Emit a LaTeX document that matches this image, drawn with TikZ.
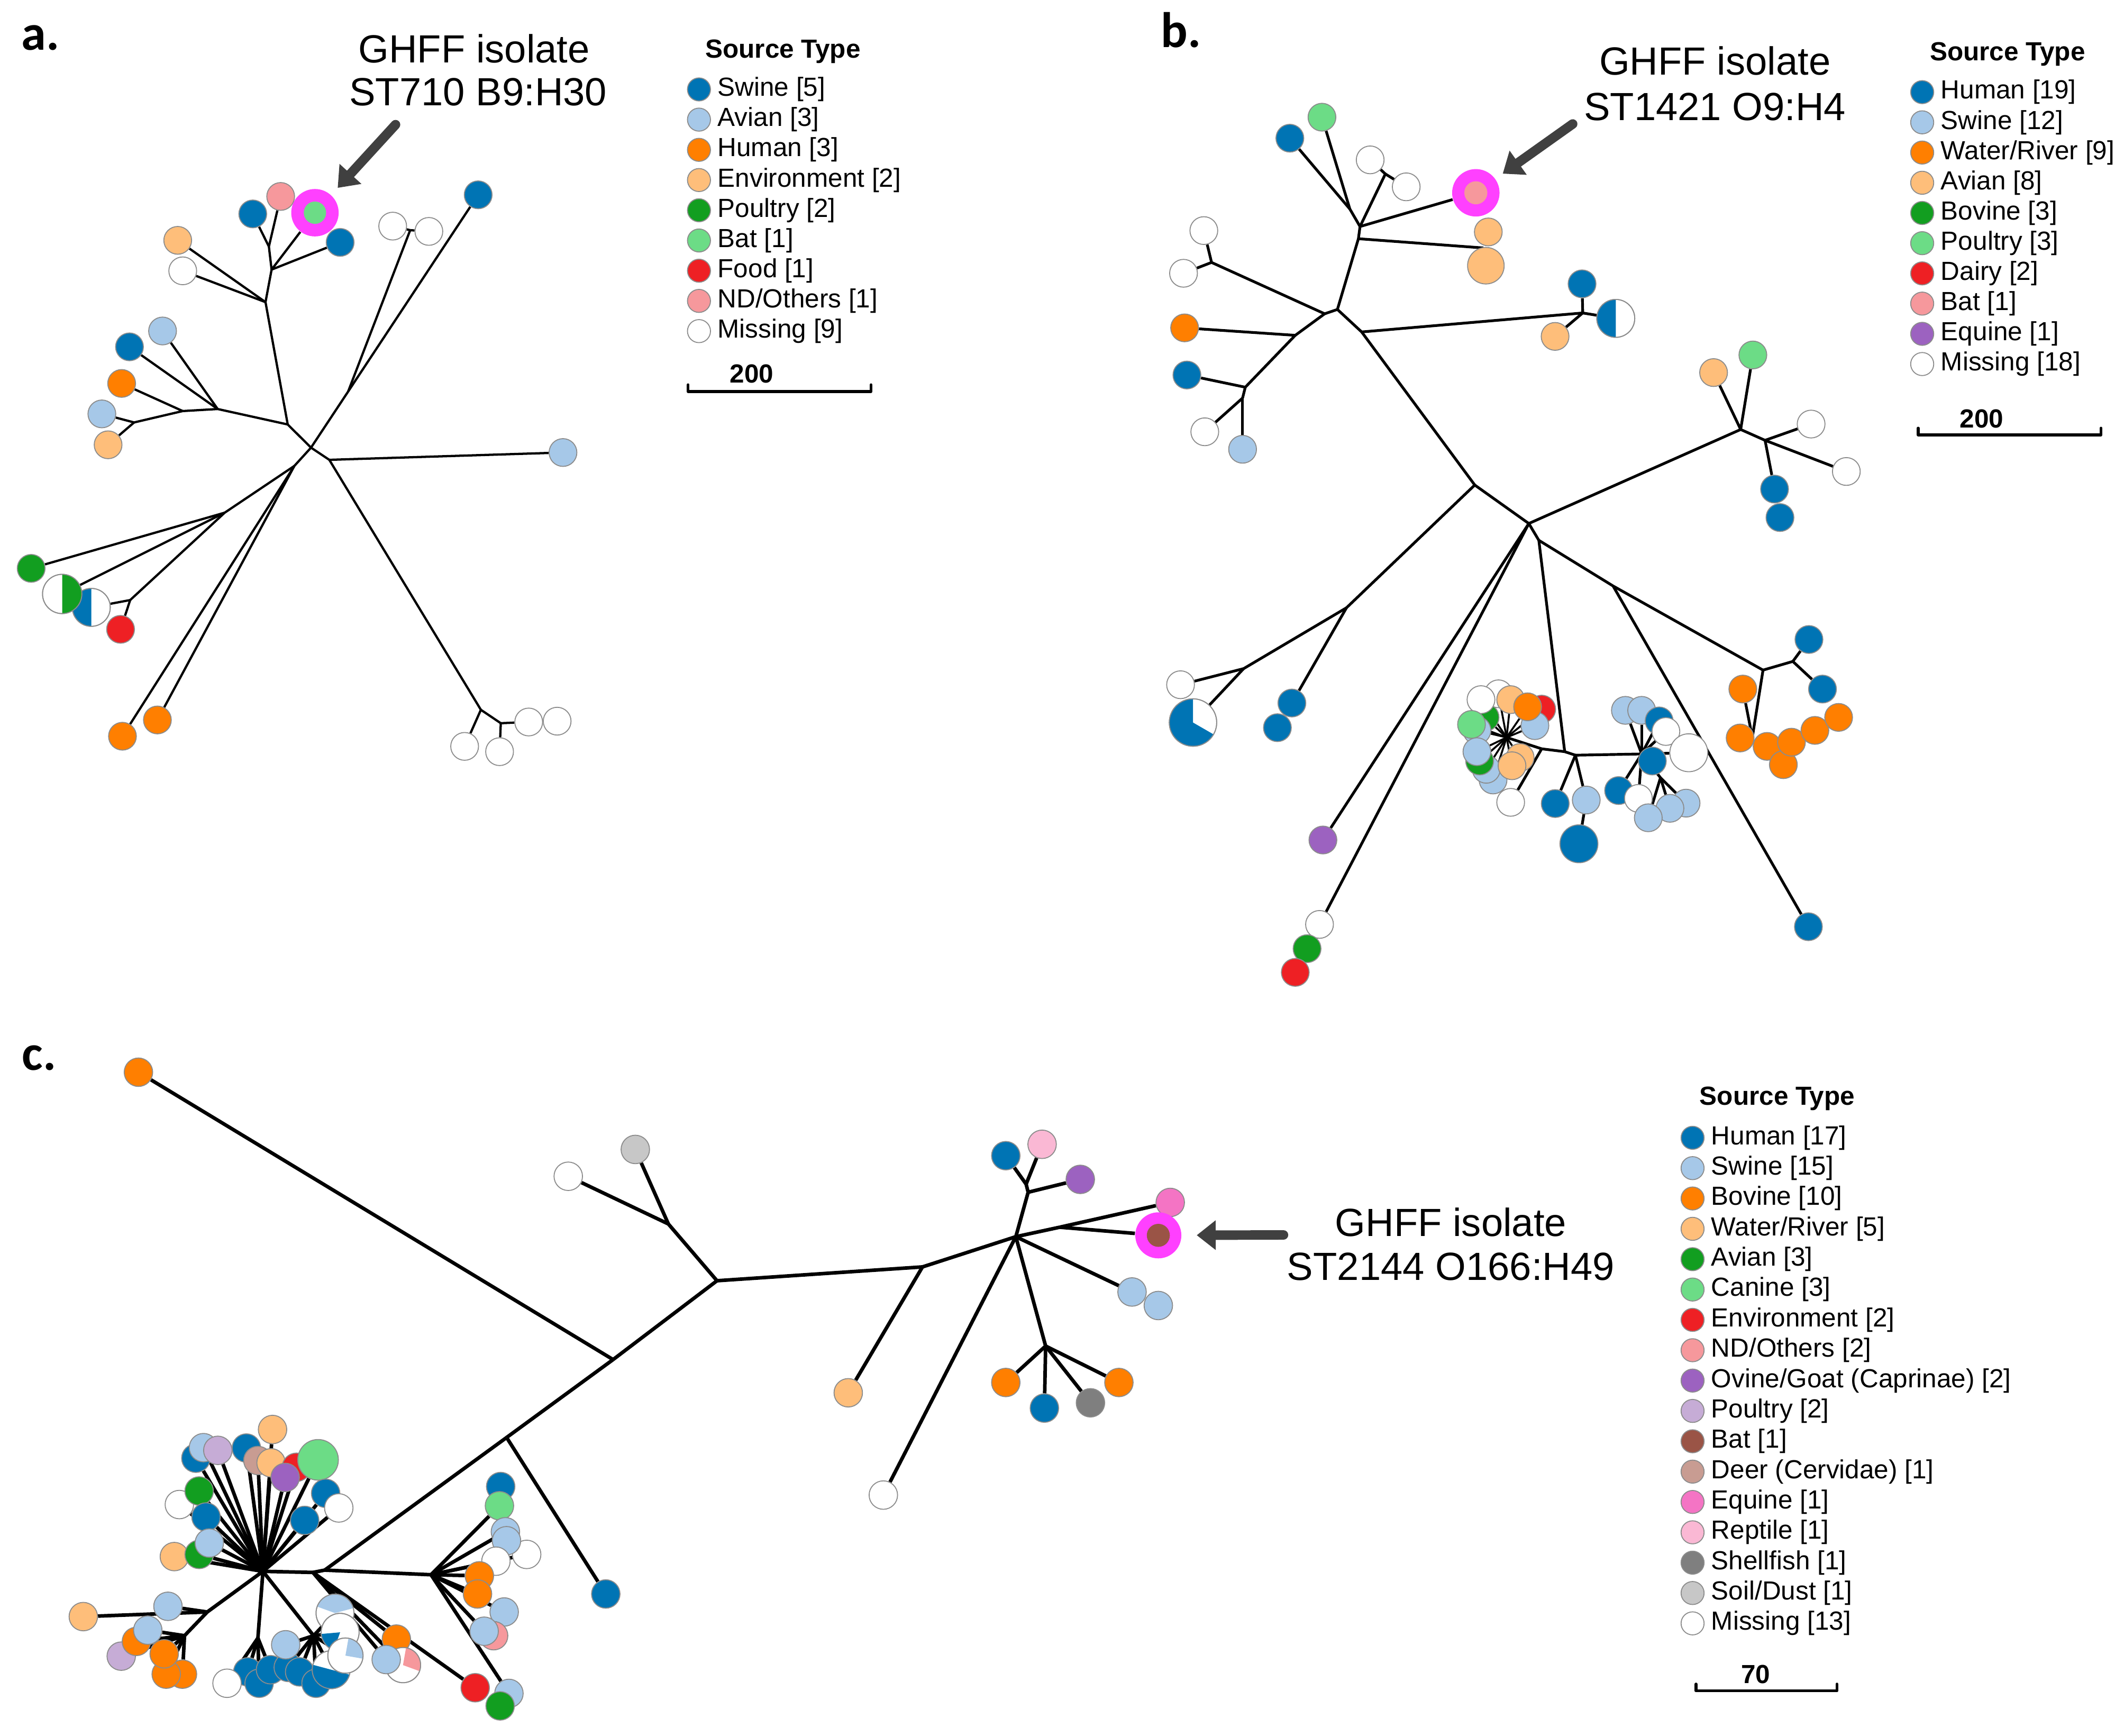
\documentclass[tikz,border=0pt]{standalone}
\usepackage{fontspec}
\setmainfont{Liberation Sans}
\newfontfamily\panelfont{Carlito}
\usetikzlibrary{arrows.meta}
\pgfdeclarelayer{edgelayer}
\pgfsetlayers{edgelayer,main}
\definecolor{cBlue}{RGB}{0,116,180}
\definecolor{cLBlue}{RGB}{166,200,232}
\definecolor{cOrange}{RGB}{255,127,0}
\definecolor{cLOrange}{RGB}{254,190,122}
\definecolor{cGreen}{RGB}{18,158,32}
\definecolor{cLGreen}{RGB}{108,220,134}
\definecolor{cRed}{RGB}{238,32,36}
\definecolor{cPink}{RGB}{246,152,156}
\definecolor{cPurple}{RGB}{156,98,192}
\definecolor{cLPurple}{RGB}{198,172,214}
\definecolor{cBrown}{RGB}{154,84,70}
\definecolor{cDeer}{RGB}{200,156,146}
\definecolor{cEquine}{RGB}{244,116,196}
\definecolor{cReptile}{RGB}{250,184,212}
\definecolor{cShell}{RGB}{127,127,127}
\definecolor{cSoil}{RGB}{199,199,199}
\definecolor{cMag}{RGB}{255,64,255}
\definecolor{cArrow}{RGB}{64,64,64}
\tikzset{
 nd/.style={circle, draw=black!45, line width=0.4pt, inner sep=0pt, minimum size=0.41cm},
 bra/.style={line width=0.95pt, black},
 brb/.style={line width=1.15pt, black},
 brc/.style={line width=1.5pt, black},
 legdot/.style={circle, draw=black!45, line width=0.4pt, inner sep=0pt, minimum size=0.34cm},
 legtxt/.style={font=\fontsize{11}{13}\selectfont, inner sep=0pt, anchor=west},
 legtitle/.style={font=\bfseries\fontsize{11}{13}\selectfont, inner sep=0pt},
 bigtxt/.style={font=\fontsize{16.5}{19}\selectfont, inner sep=0pt},
 panellbl/.style={font=\panelfont\bfseries\fontsize{21}{24}\selectfont, inner sep=0pt},
 hlarrow/.style={line width=0.14cm, cArrow, -{Triangle[length=0.28cm, width=0.42cm]}},
 scalebar/.style={line width=1.2pt, black},
 ring/.style={circle, fill=cMag, draw=none, inner sep=0pt, minimum size=0.7cm},
}
\newcommand{\nd}[4]{\node[nd,fill=#4] (#1) at (#2,#3) {};}
\newcommand{\nds}[5]{\node[nd,fill=#4,minimum size=#5] (#1) at (#2,#3) {};}
\newcommand{\jn}[3]{\coordinate (#1) at (#2,#3);}
\newcommand{\sector}[5]{\fill[#5] (#1.center) -- ++(#3:#2) arc[start angle=#3, end angle=#4, radius=#2] -- cycle;}
\newcommand{\rim}[2]{\draw[black!45, line width=0.4pt] (#1.center) circle[radius=#2];}
\newcommand{\legitem}[5]{\node[legdot,fill=#4] (#1) at (#2,#3) {};\node[legtxt] (#1t) at ([xshift=0.27cm]#1.center) {#5};}
\begin{document}
\begin{tikzpicture}[x=0.02cm, y=-0.02cm, line cap=round, line join=round]
\useasboundingbox (0,0) rectangle (1568,1281);
\begin{pgfonlayer}{edgelayer}
\fill[white] (0,0) rectangle (1568,1281);
\end{pgfonlayer}

% ---------------- panel labels and annotations
\node[panellbl] (pa) at (30,28) {a.};
\node[panellbl] (pb) at (872,22) {b.};
\node[panellbl] (pc) at (29,781) {c.};
\node[bigtxt] (ta1) at (350,36) {GHFF isolate};
\node[bigtxt] (ta2) at (353,68) {ST710 B9:H30};
\node[bigtxt] (tb1) at (1266,45) {GHFF isolate};
\node[bigtxt] (tb2) at (1266,79) {ST1421 O9:H4};
\node[bigtxt] (tc1) at (1071,902) {GHFF isolate};
\node[bigtxt] (tc2) at (1071,935) {ST2144 O166:H49};

% ---------------- legend a
\node[legtitle] (lta) at (578,38) {Source Type};
\legitem{la1}{516}{66}{cBlue}{Swine [5]}
\legitem{la2}{516}{88.3}{cLBlue}{Avian [3]}
\legitem{la3}{516}{110.6}{cOrange}{Human [3]}
\legitem{la4}{516}{132.9}{cLOrange}{Environment [2]}
\legitem{la5}{516}{155.2}{cGreen}{Poultry [2]}
\legitem{la6}{516}{177.5}{cLGreen}{Bat [1]}
\legitem{la7}{516}{199.8}{cRed}{Food [1]}
\legitem{la8}{516}{222.1}{cPink}{ND/Others [1]}
\legitem{la9}{516}{244.4}{white}{Missing [9]}
\jn{sa1}{508}{284}\jn{sa2}{508}{289}\jn{sa3}{643}{289}\jn{sa4}{643}{284}
\draw[scalebar] (sa1) -- (sa2) -- (sa3) -- (sa4);
\node[legtitle] (sat) at (555,276) {200};

% ---------------- legend b
\node[legtitle] (ltb) at (1482,40) {Source Type};
\legitem{lb1}{1419}{68}{cBlue}{Human [19]}
\legitem{lb2}{1419}{90.3}{cLBlue}{Swine [12]}
\legitem{lb3}{1419}{112.6}{cOrange}{Water/River [9]}
\legitem{lb4}{1419}{134.9}{cLOrange}{Avian [8]}
\legitem{lb5}{1419}{157.2}{cGreen}{Bovine [3]}
\legitem{lb6}{1419}{179.5}{cLGreen}{Poultry [3]}
\legitem{lb7}{1419}{201.8}{cRed}{Dairy [2]}
\legitem{lb8}{1419}{224.1}{cPink}{Bat [1]}
\legitem{lb9}{1419}{246.4}{cPurple}{Equine [1]}
\legitem{lb10}{1419}{268.7}{white}{Missing [18]}
\jn{sb1}{1416}{316}\jn{sb2}{1416}{321}\jn{sb3}{1551}{321}\jn{sb4}{1551}{316}
\draw[scalebar] (sb1) -- (sb2) -- (sb3) -- (sb4);
\node[legtitle] (sbt) at (1463,309) {200};

% ---------------- legend c
\node[legtitle] (ltc) at (1312,811) {Source Type};
\legitem{lc1}{1249.5}{839.8}{cBlue}{Human [17]}
\legitem{lc2}{1249.5}{862.2}{cLBlue}{Swine [15]}
\legitem{lc3}{1249.5}{884.6}{cOrange}{Bovine [10]}
\legitem{lc4}{1249.5}{907}{cLOrange}{Water/River [5]}
\legitem{lc5}{1249.5}{929.4}{cGreen}{Avian [3]}
\legitem{lc6}{1249.5}{951.8}{cLGreen}{Canine [3]}
\legitem{lc7}{1249.5}{974.2}{cRed}{Environment [2]}
\legitem{lc8}{1249.5}{996.6}{cPink}{ND/Others [2]}
\legitem{lc9}{1249.5}{1019}{cPurple}{Ovine/Goat (Caprinae) [2]}
\legitem{lc10}{1249.5}{1041.4}{cLPurple}{Poultry [2]}
\legitem{lc11}{1249.5}{1063.8}{cBrown}{Bat [1]}
\legitem{lc12}{1249.5}{1086.2}{cDeer}{Deer (Cervidae) [1]}
\legitem{lc13}{1249.5}{1108.6}{cEquine}{Equine [1]}
\legitem{lc14}{1249.5}{1131}{cReptile}{Reptile [1]}
\legitem{lc15}{1249.5}{1153.4}{cShell}{Shellfish [1]}
\legitem{lc16}{1249.5}{1175.8}{cSoil}{Soil/Dust [1]}
\legitem{lc17}{1249.5}{1198.2}{white}{Missing [13]}
\jn{sc1}{1252}{1243}\jn{sc2}{1252}{1248}\jn{sc3}{1356}{1248}\jn{sc4}{1356}{1243}
\draw[scalebar] (sc1) -- (sc2) -- (sc3) -- (sc4);
\node[legtitle] (sct) at (1296,1236) {70};

% ================= PANEL A =================
\jn{ja0}{229.6}{330.4}\jn{ja1}{212.4}{313.3}\jn{ja2}{196}{223}\jn{ja3}{200.5}{199}
\jn{ja4}{198.5}{182}\jn{ja5}{160.7}{301.9}\jn{ja6}{134.9}{303.4}\jn{ja7}{99}{311.8}
\jn{ja8}{257}{289}\jn{ja9}{302.8}{169.9}\jn{ja10}{243.1}{339.4}\jn{ja11}{355}{523.9}
\jn{ja12}{369.7}{533.8}\jn{ja13}{217.3}{343.9}\jn{ja14}{165.9}{378.4}\jn{ja15}{96.1}{442.9}
\nd{a1}{186.6}{157.9}{cBlue}
\nd{a2}{207.2}{145}{cPink}
\nd{a4}{251.1}{178.9}{cBlue}
\node[ring] (a3) at (232.5,157) {};
\node[nd, draw=none, fill=cLGreen, minimum size=0.33cm] (a3i) at (a3.center) {};
\nd{a5}{131.2}{177.4}{cLOrange}
\nd{a6}{134.9}{199.9}{white}
\nd{a7}{95.6}{256}{cBlue}
\nd{a8}{120}{244.3}{cLBlue}
\nd{a9}{89.8}{283}{cOrange}
\nd{a10}{75.2}{305.5}{cLBlue}
\nd{a11}{79.8}{328.3}{cLOrange}
\nd{a12}{353}{143.8}{cBlue}
\nd{a13}{289.9}{166.9}{white}
\nd{a14}{316.6}{170.8}{white}
\nd{a15}{415.6}{334}{cLBlue}
\nd{a16}{343}{550.9}{white}
\nd{a17}{368.8}{554.8}{white}
\nd{a18}{390.3}{532.9}{white}
\nd{a19}{411.3}{532.3}{white}
\nd{a20}{23}{419.5}{cGreen}
\nds{a22}{67.4}{448.3}{white}{0.56cm}
\sector{a22}{0.28cm}{90}{270}{cBlue}\rim{a22}{0.28cm}
\nds{a21}{45.9}{438.4}{white}{0.58cm}
\sector{a21}{0.29cm}{-90}{90}{cGreen}\rim{a21}{0.29cm}
\nd{a23}{89}{464.5}{cRed}
\nd{a24}{90.4}{543.4}{cOrange}
\nd{a25}{116.2}{531.4}{cOrange}
\jn{aarr}{292}{92}
\draw[hlarrow, shorten >=0.14cm] (aarr) -- (a3);

% ================= PANEL B =================
\jn{jb1}{996.5}{154.3}\jn{jb2}{1004}{167.2}\jn{jb3}{1022.7}{128.4}\jn{jb4}{1002.8}{176.2}
\jn{jb5}{987.3}{228.4}\jn{jb6}{977.9}{231.6}\jn{jb7}{894.4}{193.7}\jn{jb8}{956.2}{247.5}
\jn{jb9}{919.3}{285.8}\jn{jb10}{917.3}{293.8}\jn{jb11}{1005.2}{245}\jn{jb12}{1168.4}{231}
\jn{jb13}{1088.7}{358}\jn{jb14}{1128.6}{386.4}\jn{jb15}{994}{448.6}\jn{jb16}{918.1}{493.5}
\jn{jb17}{1136}{398.8}\jn{jb18}{1190.8}{432.5}\jn{jb20}{1301.5}{494.6}\jn{jb21}{1323.5}{488.2}
\jn{jb22}{1293.6}{544.3}\jn{jr1}{1285}{317}\jn{jr2}{1303}{325}
\jn{jc1}{1155.1}{554.8}\jn{jc2}{1112.2}{544.3}\jn{jcm}{1138.1}{552.7}\jn{jc3}{1163}{557.4}
\jn{jc4}{1211.9}{556.5}\jn{jc5}{1225.8}{574}
\jn{b67}{1095}{183}
\nd{b1}{952.2}{102}{cBlue}
\nd{b2}{975.9}{86.5}{cLGreen}
\nd{b3}{1011.5}{118}{white}
\nd{b4}{1038.1}{137.9}{white}
\node[ring] (b5) at (1089.5,142.3) {};
\node[nd, draw=none, fill=cPink, minimum size=0.34cm] (b5i) at (b5.center) {};
\nd{b6}{1098.7}{171.2}{cLOrange}
\nds{b7}{1096.9}{196.1}{cLOrange}{0.54cm}
\nd{b8}{888.7}{170.2}{white}
\nd{b9}{873.7}{201.7}{white}
\nd{b10}{874.5}{242}{cOrange}
\nd{b11}{876.2}{276.8}{cBlue}
\nd{b12}{889.4}{318.7}{white}
\nd{b13}{917.3}{331.6}{cLBlue}
\nd{b14}{1167.9}{209.5}{cBlue}
\nds{b15}{1192.8}{235}{white}{0.56cm}
\sector{b15}{0.28cm}{90}{270}{cBlue}\rim{b15}{0.28cm}
\nd{b16}{1148}{248.3}{cLOrange}
\nd{b17}{871.5}{505.4}{white}
\nds{b18}{880.7}{533.3}{white}{0.7cm}
\sector{b18}{0.35cm}{90}{330}{cBlue}\rim{b18}{0.35cm}
\nd{b19}{953.7}{518.9}{cBlue}
\nd{b20}{943}{537.1}{cBlue}
\nd{b21}{976.6}{620}{cPurple}
\nd{b22}{974.1}{682.3}{white}
\nd{b23}{964.9}{700.2}{cGreen}
\nd{b24}{956.2}{717.7}{cRed}
\nd{b25}{1265}{275}{cLOrange}
\nd{b26}{1294}{262}{cLGreen}
\nd{b27}{1337}{313}{white}
\nd{b28}{1363}{348}{white}
\nd{b29}{1310}{361}{cBlue}
\nd{b30}{1314}{382}{cBlue}
\nd{b31}{1335.4}{472}{cBlue}
\nd{b32}{1345.4}{508.6}{cBlue}
\nd{b33}{1286.6}{508.6}{cOrange}
\nd{b34}{1284.6}{544.7}{cOrange}
\nd{b35}{1304.5}{550.9}{cOrange}
\nd{b37}{1316.5}{564.4}{cOrange}
\nd{b36}{1322.5}{547.8}{cOrange}
\nd{b38}{1339.8}{539.1}{cOrange}
\nd{b39}{1357.3}{529.5}{cOrange}
\nd{b40}{1335}{684}{cBlue}
% swine cluster
\nd{sgr1}{1096.3}{529.5}{cGreen}
\nd{swh2}{1106.2}{512.1}{white}
\nd{swh1}{1093.3}{516.4}{white}
\nd{slor1}{1115.2}{516.4}{cLOrange}
\nd{sred}{1138.1}{523.4}{cRed}
\nd{slb1}{1133.1}{535.6}{cLBlue}
\nd{sor}{1127.7}{521.7}{cOrange}
\nd{slb2}{1090.3}{539.1}{cLBlue}
\nd{slg}{1086.3}{534.7}{cLGreen}
\nd{slb5}{1102.2}{575.7}{cLBlue}
\nd{slb4}{1097.2}{567.8}{cLBlue}
\nd{sgr2}{1092.3}{561.7}{cGreen}
\nd{slb3}{1090.3}{554.8}{cLBlue}
\nd{slor2}{1122.2}{559.1}{cLOrange}
\nd{slor3}{1116.2}{565.2}{cLOrange}
\nd{swh3}{1115.2}{592.2}{white}
\nd{s17}{1148.1}{593.1}{cBlue}
\nd{s18}{1171}{590.5}{cLBlue}
\nds{s19}{1165.6}{622.8}{cBlue}{0.56cm}
\nd{s20}{1199.9}{524.3}{cLBlue}
\nd{s21}{1211.9}{524.3}{cLBlue}
\nd{s22}{1224.8}{532.1}{cBlue}
\nd{s23}{1229.8}{539.9}{white}
\nds{s24}{1246.7}{555.6}{white}{0.56cm}
\nd{s25}{1219.8}{561.7}{cBlue}
\nd{s26}{1194.9}{583.5}{cBlue}
\nd{s27}{1209.5}{589.3}{white}
\nd{s30}{1244.7}{592.8}{cLBlue}
\nd{s29}{1232.8}{596.6}{cLBlue}
\nd{s28}{1216.8}{603.6}{cLBlue}
\jn{barr}{1161}{91.5}
\draw[hlarrow, shorten >=0.13cm] (barr) -- (b5);

% ================= PANEL C =================
\jn{qa}{452.6}{1003.5}\jn{qb}{529.3}{945.3}\jn{qc}{493.4}{903.4}\jn{qd}{681}{935.1}
\jn{qe}{749.9}{912.8}\jn{qf}{759}{880}\jn{qg}{757.5}{874}\jn{qh}{782.3}{905.8}
\jn{qi}{771.9}{993.5}\jn{qm}{374}{1061}\jn{qj}{239.7}{1158.9}\jn{qk}{318.2}{1162.3}
\jn{ql}{231}{1160.6}\jn{hc}{194.1}{1159.8}\jn{qp}{153}{1189.8}\jn{qq}{136.2}{1207.3}
\jn{qo}{190.4}{1209}\jn{qn}{231.5}{1207.3}
\tikzset{nd/.append style={minimum size=0.42cm}}
\nd{k1}{102.2}{791.4}{cOrange}
\nd{k2}{419.5}{868.2}{white}
\nd{k3}{469}{848.4}{cSoil}
\nd{k4}{626.2}{1028}{cLOrange}
\nd{k5}{652.1}{1103.5}{white}
\nd{k6}{742.5}{853}{cBlue}
\nd{k7}{769.3}{844.6}{cReptile}
\nd{k8}{797.5}{870.5}{cPurple}
\nd{k9}{863.9}{887.5}{cEquine}
\node[ring, minimum size=0.68cm] (k10) at (855.1,911.8) {};
\node[nd, draw=none, fill=cBrown, minimum size=0.34cm] (k10i) at (k10.center) {};
\nd{k11}{835.7}{953.6}{cLBlue}
\nd{k12}{855.1}{963.6}{cLBlue}
\nd{k13}{742.5}{1020.4}{cOrange}
\nd{k14}{771}{1039.3}{cBlue}
\nd{k15}{805}{1035.4}{cShell}
\nd{k16}{826}{1020.4}{cOrange}
\nd{k17}{447.2}{1176.5}{cBlue}
% upper-left fan
\nd{kL1}{144.6}{1076.3}{cBlue}
\nd{kL2}{150.2}{1068.5}{cLBlue}
\nd{kL3}{160.8}{1070.5}{cLPurple}
\nd{kL4}{132.4}{1110.5}{white}
\nd{kL5}{147}{1100.5}{cGreen}
\nd{kL6}{152.1}{1119.7}{cBlue}
\nd{kL7}{128.7}{1148.9}{cLOrange}
\nd{kL8}{147}{1147.3}{cGreen}
\nd{kL9}{154.5}{1138.9}{cLBlue}
\nd{kU1}{181.9}{1068.8}{cBlue}
\nd{kU2}{190.4}{1078}{cDeer}
\nd{kU3}{201.2}{1055.1}{cLOrange}
\nd{kU4}{200.1}{1079.7}{cLOrange}
\nd{kU6}{218.8}{1083}{cRed}
\nd{kU5}{210.5}{1090.5}{cPurple}
\nds{kU7}{234.8}{1077.5}{cLGreen}{0.6cm}
\nd{kU8}{240.4}{1102.2}{cBlue}
\nd{kU9}{250.1}{1113}{white}
\nd{kU10}{224.9}{1122.2}{cBlue}
% left-lower
\nd{kP2}{61.5}{1193.2}{cLOrange}
\nd{kP1}{124}{1185.6}{cLBlue}
\nd{kQ3}{89.5}{1222.4}{cLPurple}
\nd{kQ2}{100.7}{1211.5}{cOrange}
\nd{kQ1}{109.1}{1203.2}{cLBlue}
\nd{kQ6}{134.7}{1235.7}{cOrange}
\nd{kQ5}{122.7}{1235.7}{cOrange}
\nd{kQ4}{121.2}{1220.7}{cOrange}
% bottom
\nd{kB2}{182.9}{1234}{cBlue}
\nd{kB3}{191.3}{1242.4}{cBlue}
\nd{kB1}{167.6}{1242.4}{white}
\nd{kB4}{199.7}{1232.4}{cBlue}
\nd{kB6}{212.8}{1230.7}{cBlue}
\nd{kB7}{221.2}{1234}{cBlue}
\nd{kB5}{210.9}{1214}{cLBlue}
\nd{kB8}{233.3}{1242.4}{cBlue}
\nds{kPA}{247.3}{1190.6}{white}{0.56cm}
\sector{kPA}{0.28cm}{15}{160}{cLBlue}\rim{kPA}{0.28cm}
\nds{kPB}{251.1}{1204.8}{white}{0.56cm}
\sector{kPB}{0.28cm}{185}{250}{cBlue}\rim{kPB}{0.28cm}
\nds{kB9}{244.5}{1232.4}{white}{0.56cm}
\sector{kB9}{0.28cm}{165}{345}{cBlue}\rim{kB9}{0.28cm}
\nds{kPC}{255}{1222}{white}{0.52cm}
\sector{kPC}{0.26cm}{-10}{80}{cLBlue}\rim{kPC}{0.26cm}
% right small cluster
\nd{kK1}{369.6}{1097.2}{cBlue}
\nd{kK2}{368.7}{1111.4}{cLGreen}
\nd{kK6}{388.8}{1147.3}{white}
\nd{kK3}{373.1}{1130.6}{cLBlue}
\nd{kK4}{373.9}{1137.2}{cLBlue}
\nd{kK5}{366.1}{1152.3}{white}
\nd{kK7}{353.9}{1163.1}{cOrange}
\nd{kK8}{352.5}{1176.5}{cOrange}
\nd{kK9}{372.2}{1189.8}{cLBlue}
\nd{kK10}{364.4}{1207.3}{cPink}
\nd{kK11}{357.4}{1204}{cLBlue}
\nd{kK12}{375.7}{1249.9}{cLBlue}
\nd{kK13}{369.2}{1259.1}{cGreen}
\nd{kR}{350.8}{1245.7}{cRed}
\nd{kO1}{292.6}{1209.8}{cOrange}
\nds{kO2}{297.5}{1229}{white}{0.52cm}
\sector{kO2}{0.26cm}{-20}{80}{cPink}\rim{kO2}{0.26cm}
\nd{kO3}{285.1}{1224.9}{cLBlue}
\jn{carr}{947.5}{911.5}
\draw[hlarrow, shorten >=0.22cm] (carr) -- (k10);

% ================= EDGES =================
\begin{pgfonlayer}{edgelayer}
% panel a
\foreach \s/\t in {ja0/ja1, ja1/ja2, ja2/ja3, ja3/ja4, ja4/a1, ja4/a2, ja3/a3, ja3/a4, ja2/a5, ja2/a6,
  ja1/ja5, ja5/a7, ja5/a8, ja5/ja6, ja6/a9, ja6/ja7, ja7/a10, ja7/a11, ja0/ja8, ja8/a12, ja8/ja9,
  ja9/a13, ja9/a14, ja0/ja10, ja10/a15, ja10/ja11, ja11/a16, ja11/ja12, ja12/a17, ja12/a18,
  ja0/ja13, ja13/ja14, ja14/a20, ja14/a21, ja14/ja15, ja15/a22, ja15/a23, ja13/a24, ja13/a25}
  \draw[bra] (\s) -- (\t);
% panel b
\foreach \s/\t in {jb1/b1, jb1/b2, jb1/jb2, jb2/jb3, jb3/b3, jb3/b4, jb2/b5, jb2/jb4, jb4/b67,
  jb4/jb5, jb5/jb6, jb6/jb7, jb7/b8, jb7/b9, jb6/jb8, jb8/b10, jb8/jb9, jb9/b11, jb9/jb10,
  jb10/b12, jb10/b13, jb5/jb11, jb11/jb12, jb12/b14, jb12/b15, jb12/b16, jb11/jb13, jb13/jb14,
  jb13/jb15, jb15/jb16, jb16/b17, jb16/b18, jb15/b19, jb14/b21, jb14/b22, jb14/jb17, jb14/jr1,
  jr1/b25, jr1/b26, jr1/jr2, jr2/b27, jr2/b28, jr2/b29, jb17/jc1, jb17/jb18, jb18/jb20,
  jb20/jb21, jb21/b31, jb21/b32, jb20/jb22, jb22/b33, jb18/b40,
  jc2/jcm, jcm/jc1, jc1/jc3, jc3/jc4, jcm/swh3, jc3/s17, jc3/s18, s18/s19, jc4/jc5,
  jc5/s28, jc5/s29, jc5/s30}
  \draw[brb] (\s) -- (\t);
\foreach \t in {sgr1,swh2,swh1,slor1,sred,slb1,sor,slb2,slg,slb5,slb4,sgr2,slb3,slor2,slor3}
  \draw[line width=0.8pt] (jc2) -- (\t);
\foreach \t in {s20,s21,s22,s23,s24,s25,s26,s27}
  \draw[brb] (jc4) -- (\t);
% panel c
\foreach \s/\t in {k1/qa, qa/qb, qb/qc, qc/k2, qc/k3, qb/qd, qd/k4, qd/qe, qe/k5, qe/qf, qf/qg,
  qg/k6, qg/k7, qf/k8, qe/qh, qh/k9, qh/k10, qe/k11, qe/qi, qi/k13, qi/k14, qi/k15, qi/k16,
  qa/qm, qm/qj, qm/k17, hc/ql, ql/qj, qj/qk, hc/qp, qp/kP1, qp/kP2, qp/qq, hc/qo, hc/qn}
  \draw[brc] (\s) -- (\t);
\foreach \t in {kK2,kK3,kK5,kK6,kK7,kK8,kK9,kK11,kK12}
  \draw[brc] (qk) -- (\t);
\foreach \t in {kO1,kO2,kO3,kR}
  \draw[brc] (ql) -- (\t);
\foreach \t in {kL1,kL2,kL3,kL4,kL5,kL6,kL7,kL8,kL9,kU1,kU2,kU3,kU4,kU5,kU6,kU7,kU8,kU9,kU10}
  \draw[brc] (hc) -- (\t);
\foreach \t in {kQ1,kQ2,kQ3,kQ4,kQ5,kQ6}
  \draw[brc] (qq) -- (\t);
\foreach \t in {kB1,kB2,kB3,kB4}
  \draw[brc] (qo) -- (\t);
\foreach \t in {kB5,kB6,kB7,kB8,kB9,kPA,kPB,kPC}
  \draw[brc] (qn) -- (\t);
\end{pgfonlayer}
\end{tikzpicture}
\end{document}
